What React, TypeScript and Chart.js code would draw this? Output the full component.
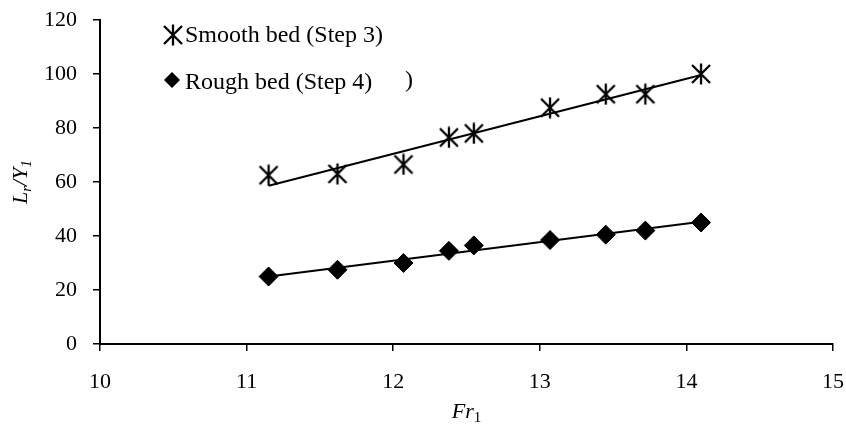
import React, { useEffect, useRef } from 'react';
import { Chart, registerables } from 'chart.js';

Chart.register(...registerables);

// ---- data ----
const frValues = [11.15, 11.62, 12.07, 12.38, 12.55, 13.07, 13.45, 13.72, 14.1];
const smoothValues = [62.5, 63, 66.5, 76.5, 78, 87.5, 92.5, 92.5, 100];
const roughValues = [25, 27.5, 30, 34.5, 36.5, 38.5, 40.5, 42, 45];
const xTicks = [10, 11, 12, 13, 14, 15];
const yTicks = [0, 20, 40, 60, 80, 100, 120];
const seriesLabels = ['Smooth bed (Step 3)', 'Rough bed (Step 4)'];

const FONT = '"Liberation Serif", "Times New Roman", serif';

// least-squares linear trendline, spanning the data's x range
function trend(xs: number[], ys: number[]) {
  const n = xs.length;
  const mx = xs.reduce((a, b) => a + b, 0) / n;
  const my = ys.reduce((a, b) => a + b, 0) / n;
  let sxy = 0;
  let sxx = 0;
  for (let i = 0; i < n; i++) {
    sxy += (xs[i] - mx) * (ys[i] - my);
    sxx += (xs[i] - mx) * (xs[i] - mx);
  }
  const b = sxy / sxx;
  const a = my - b * mx;
  const x0 = Math.min(...xs);
  const x1 = Math.max(...xs);
  return [
    { x: x0, y: a + b * x0 },
    { x: x1, y: a + b * x1 },
  ];
}

function makeStar(): HTMLCanvasElement {
  const c = document.createElement('canvas');
  c.width = 22;
  c.height = 22;
  const g = c.getContext('2d')!;
  g.strokeStyle = '#000';
  g.lineWidth = 2.3;
  g.beginPath();
  g.moveTo(2, 2);
  g.lineTo(20, 20);
  g.moveTo(20, 2);
  g.lineTo(2, 20);
  g.moveTo(11, 0.5);
  g.lineTo(11, 21.5);
  g.stroke();
  return c;
}

export default function App() {
  const ref = useRef<HTMLCanvasElement | null>(null);

  useEffect(() => {
    document.body.style.margin = '0';
    const canvas = ref.current;
    if (!canvas) return;
    const star = makeStar();

    const overlay = {
      id: 'overlay',
      afterDraw(chart: any) {
        const ctx = chart.ctx as CanvasRenderingContext2D;
        ctx.save();
        ctx.fillStyle = '#000';
        // legend
        ctx.drawImage(star, 173 - 11, 35 - 11);
        ctx.font = `24px ${FONT}`;
        ctx.textBaseline = 'middle';
        ctx.textAlign = 'left';
        ctx.fillText(seriesLabels[0], 185, 36);
        ctx.beginPath();
        ctx.moveTo(172 - 8, 80);
        ctx.lineTo(172, 72);
        ctx.lineTo(172 + 8, 80);
        ctx.lineTo(172, 88);
        ctx.closePath();
        ctx.fill();
        ctx.fillText(seriesLabels[1], 185, 83);
        ctx.fillText(')', 405, 81);

        // x title: Fr1
        const cx = (chart.chartArea.left + chart.chartArea.right) / 2;
        ctx.textBaseline = 'alphabetic';
        ctx.font = `italic 22px ${FONT}`;
        const wFr = ctx.measureText('Fr').width;
        ctx.font = `15px ${FONT}`;
        const w1 = ctx.measureText('1').width;
        let x = cx - (wFr + w1) / 2;
        const by = 418;
        ctx.font = `italic 22px ${FONT}`;
        ctx.fillText('Fr', x, by);
        x += wFr;
        ctx.font = `15px ${FONT}`;
        ctx.fillText('1', x, by + 4);

        // y title: Lr/Y1 (rotated)
        const cy = (chart.chartArea.top + chart.chartArea.bottom) / 2;
        ctx.translate(27, cy);
        ctx.rotate(-Math.PI / 2);
        const parts: [string, boolean][] = [
          ['L', false],
          ['r', true],
          ['/Y', false],
          ['1', true],
        ];
        let total = 0;
        for (const [t, sub] of parts) {
          ctx.font = sub ? `italic 15px ${FONT}` : `italic 22px ${FONT}`;
          total += ctx.measureText(t).width;
        }
        let px = -total / 2;
        for (const [t, sub] of parts) {
          ctx.font = sub ? `italic 15px ${FONT}` : `italic 22px ${FONT}`;
          ctx.fillText(t, px, sub ? 4 : 0);
          px += ctx.measureText(t).width;
        }
        ctx.restore();
      },
    };

    const chart = new Chart(canvas, {
      type: 'scatter',
      data: {
        datasets: [
          {
            label: seriesLabels[0],
            data: frValues.map((x, i) => ({ x, y: smoothValues[i] })),
            pointStyle: star as any,
            pointRadius: 10,
            showLine: false,
            order: 1,
          },
          {
            label: seriesLabels[1],
            data: frValues.map((x, i) => ({ x, y: roughValues[i] })),
            pointStyle: 'rectRot',
            pointRadius: 9.5,
            pointBackgroundColor: '#000',
            pointBorderColor: '#000',
            pointBorderWidth: 1,
            showLine: false,
            order: 1,
          },
          {
            type: 'line',
            label: 'trend smooth',
            data: trend(frValues, smoothValues),
            borderColor: '#000',
            borderWidth: 2,
            pointRadius: 0,
            fill: false,
            order: 2,
          } as any,
          {
            type: 'line',
            label: 'trend rough',
            data: trend(frValues, roughValues),
            borderColor: '#000',
            borderWidth: 2,
            pointRadius: 0,
            fill: false,
            order: 2,
          } as any,
        ],
      },
      options: {
        responsive: false,
        animation: false,
        devicePixelRatio: 1,
        layout: { padding: { top: 20, right: 13, left: 0, bottom: 0 } },
        plugins: {
          legend: { display: false },
          tooltip: { enabled: false },
        },
        scales: {
          x: {
            type: 'linear',
            min: xTicks[0],
            max: xTicks[xTicks.length - 1],
            afterBuildTicks: (s: any) => {
              s.ticks = xTicks.map((v) => ({ value: v }));
            },
            afterFit: (s: any) => {
              s.height = 82;
              s.paddingLeft = 0;
              s.paddingRight = 0;
            },
            ticks: {
              color: '#000',
              font: { family: FONT, size: 22 },
              padding: 18,
              maxRotation: 0,
            },
            grid: {
              drawOnChartArea: false,
              drawTicks: true,
              tickLength: 7,
              color: '#000',
              lineWidth: 1.5,
            },
            border: { display: true, color: '#000', width: 2 },
          },
          y: {
            type: 'linear',
            min: yTicks[0],
            max: yTicks[yTicks.length - 1],
            afterBuildTicks: (s: any) => {
              s.ticks = yTicks.map((v) => ({ value: v }));
            },
            afterFit: (s: any) => {
              s.width = 100;
              s.paddingTop = 0;
              s.paddingBottom = 0;
            },
            ticks: {
              color: '#000',
              font: { family: FONT, size: 22 },
              padding: 16,
            },
            grid: {
              drawOnChartArea: false,
              drawTicks: true,
              tickLength: 7,
              color: '#000',
              lineWidth: 1.5,
            },
            border: { display: true, color: '#000', width: 2 },
          },
        },
      },
      plugins: [overlay],
    });

    return () => chart.destroy();
  }, []);

  return (
    <div style={{ width: 846, height: 426 }}>
      <canvas
        ref={ref}
        width={846}
        height={426}
        style={{ display: 'block', width: 846, height: 426 }}
      />
    </div>
  );
}
